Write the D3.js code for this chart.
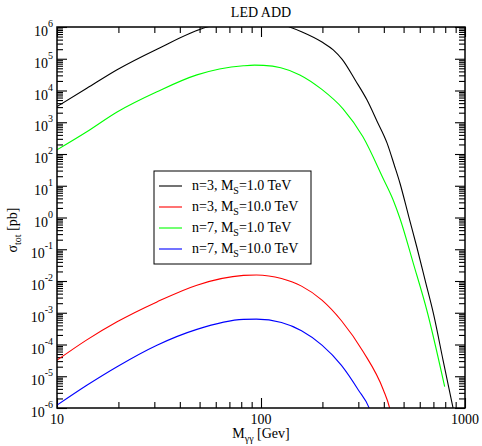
<!DOCTYPE html>
<html>
<head>
<meta charset="utf-8">
<script src="https://cdn.jsdelivr.net/npm/d3@7"></script>
<style>
    body { margin: 0; background: #fff; }
    text { font-family: "Liberation Serif", "Times New Roman", serif; }
</style>
</head>
<body>
<script>
// LED ADD cross sections
var title = "LED ADD";

// diphoton mass (GeV) and sigma_tot (pb) for each curve
var massN3M1 = [10, 14, 19.7, 30.9, 54.4, 88, 126, 138, 158, 200, 226, 250,
                290, 331, 370, 415, 450, 480, 530, 580, 640, 700, 780, 871, 900];
var sigmaN3M1 = [3.1e3, 1.17e4, 4.5e4, 2.0e5, 1.0e6, 1.55e6, 1.2e6, 1.0e6,
                 7.1e5, 3.3e5, 1.9e5, 9.5e4, 2.1e4, 5.0e3, 1.1e3, 220, 45, 12,
                 1.07, 0.12, 9.5e-3, 9.5e-4, 3.3e-5, 1.1e-6, 4e-7];

var massN3M10 = [10, 14, 19.7, 30.9, 48.5, 82, 95, 126, 158, 199, 248, 317,
                 398, 427, 440];
var sigmaN3M10 = [3.2e-5, 1.4e-4, 5.2e-4, 2.2e-3, 7.4e-3, 1.5e-2, 1.55e-2,
                  1.2e-2, 6.9e-3, 2.5e-3, 5.6e-4, 5.9e-5, 3.7e-6, 1.0e-6, 4e-7];

var massN7M1 = [10, 14, 19.7, 30.9, 48.5, 82, 93, 103, 125, 155, 198, 253,
                316, 397, 445, 480, 558, 650, 795];
var sigmaN7M1 = [135, 500, 2.1e3, 9.1e3, 3.1e4, 6.0e4, 6.3e4, 6.2e4, 5.2e4,
                 3.1e4, 1.1e4, 2.6e3, 350, 17, 3.5, 0.93, 0.036, 1.2e-3, 4.7e-6];

var massN7M10 = [10, 14, 19.7, 30.9, 48.5, 82, 95, 126, 158, 199, 248, 300,
                 339, 350];
var sigmaN7M10 = [1.23e-6, 5.2e-6, 2.0e-5, 9.5e-5, 3.0e-4, 6.2e-4, 6.3e-4,
                  4.9e-4, 2.7e-4, 9.5e-5, 2.2e-5, 3.7e-6, 1.0e-6, 5.6e-7];

var seriesN = ["3", "3", "7", "7"];
var seriesMs = ["1.0", "10.0", "1.0", "10.0"];
var seriesColors = ["#000000", "#ff0000", "#00ff00", "#0000ff"];

var xMajor = [10, 100, 1000];
var yExponents = [-6, -5, -4, -3, -2, -1, 0, 1, 2, 3, 4, 5, 6];

var W = 482, H = 446;
// plot frame in pixels ("top" is taken by window.top, so prefix them)
var pLeft = 57, pRight = 465, pTop = 27, pBottom = 408;

var svg = d3.select("body").append("svg")
    .attr("width", W)
    .attr("height", H);

var x = d3.scaleLog().domain([10, 1000]).range([pLeft, pRight]);
var y = d3.scaleLog().domain([1e-6, 1e6]).range([pBottom, pTop]);

// minor ticks 2..9 in every decade
var xMinor = [];
xMajor.slice(0, -1).forEach(function(d) {
    for (var k = 2; k < 10; k++) xMinor.push(d * k);
});
var yMinor = [];
yExponents.slice(0, -1).forEach(function(e) {
    for (var k = 2; k < 10; k++) yMinor.push(k * Math.pow(10, e));
});
var yMajor = yExponents.map(function(e) { return Math.pow(10, e); });

function drawAxis(axisFn, scale, values, size, tx, ty) {
    var g = svg.append("g")
        .attr("transform", "translate(" + tx + "," + ty + ")")
        .call(axisFn(scale).tickValues(values).tickSize(size)
              .tickFormat(""));
    g.select(".domain").remove();
    g.selectAll("line").attr("stroke", "#000").attr("stroke-width", 1.1);
}

var majLen = 10, minLen = 6;
// ticks point inward on all four sides
drawAxis(d3.axisBottom, x, xMajor, -majLen, 0, pBottom);
drawAxis(d3.axisBottom, x, xMinor, -minLen, 0, pBottom);
drawAxis(d3.axisTop, x, xMajor, -majLen, 0, pTop);
drawAxis(d3.axisTop, x, xMinor, -minLen, 0, pTop);
drawAxis(d3.axisLeft, y, yMajor, -majLen, pLeft, 0);
drawAxis(d3.axisLeft, y, yMinor, -minLen, pLeft, 0);
drawAxis(d3.axisRight, y, yMajor, -majLen, pRight, 0);
drawAxis(d3.axisRight, y, yMinor, -minLen, pRight, 0);

// curves, clipped to the frame
svg.append("clipPath").attr("id", "plotclip")
    .append("rect")
    .attr("x", pLeft).attr("y", pTop)
    .attr("width", pRight - pLeft).attr("height", pBottom - pTop);

var series = [
    {mass: massN3M1, sigma: sigmaN3M1},
    {mass: massN3M10, sigma: sigmaN3M10},
    {mass: massN7M1, sigma: sigmaN7M1},
    {mass: massN7M10, sigma: sigmaN7M10}
];

// smooth through the read points (the original is densely sampled)
var line = d3.line()
    .curve(d3.curveMonotoneX)
    .x(function(d) { return x(d[0]); })
    .y(function(d) { return y(d[1]); });

svg.append("g").attr("clip-path", "url(#plotclip)")
    .selectAll("path")
    .data(series)
    .enter()
    .append("path")
    .attr("d", function(s) { return line(d3.zip(s.mass, s.sigma)); })
    .attr("fill", "none")
    .attr("stroke", function(s, i) { return seriesColors[i]; })
    .attr("stroke-width", 1.1);

// frame
svg.append("rect")
    .attr("x", pLeft).attr("y", pTop)
    .attr("width", pRight - pLeft).attr("height", pBottom - pTop)
    .attr("fill", "none")
    .attr("stroke", "#000")
    .attr("stroke-width", 1.5);

// y tick labels 10^n
var yLab = svg.append("g").selectAll("text")
    .data(yExponents)
    .enter()
    .append("text")
    .attr("x", 53)
    .attr("y", function(e) { return y(Math.pow(10, e)) + 9; })
    .attr("text-anchor", "end")
    .attr("font-size", "14px");
yLab.append("tspan").text("10");
yLab.append("tspan")
    .attr("dy", -9)
    .attr("font-size", "10px")
    .text(function(e) { return e; });

// x tick labels
svg.append("g").selectAll("text")
    .data(xMajor)
    .enter()
    .append("text")
    .attr("x", function(d) { return x(d); })
    .attr("y", 424)
    .attr("text-anchor", "middle")
    .attr("font-size", "14px")
    .text(function(d) { return d; });

// title
svg.append("text")
    .attr("x", (pLeft + pRight) / 2)
    .attr("y", 17)
    .attr("text-anchor", "middle")
    .attr("font-size", "14px")
    .text(title);

// x axis title
var xt = svg.append("text")
    .attr("x", (pLeft + pRight) / 2)
    .attr("y", 438)
    .attr("text-anchor", "middle")
    .attr("font-size", "14px");
xt.append("tspan").text("M");
xt.append("tspan").attr("dy", 4).attr("font-size", "10px").text("\u03b3\u03b3");
xt.append("tspan").attr("dy", -4).text(" [Gev]");

// y axis title
var yt = svg.append("text")
    .attr("transform", "translate(17,230) rotate(-90)")
    .attr("text-anchor", "middle")
    .attr("font-size", "14px");
yt.append("tspan").text("\u03c3");
yt.append("tspan").attr("dy", 4).attr("font-size", "10px").text("tot");
yt.append("tspan").attr("dy", -4).text(" [pb]");

// legend
var legX = 154, legY = 171, legW = 157, legH = 93;
svg.append("rect")
    .attr("x", legX).attr("y", legY)
    .attr("width", legW).attr("height", legH)
    .attr("fill", "#fff")
    .attr("stroke", "#000")
    .attr("stroke-width", 1);

var rows = svg.append("g").selectAll("g")
    .data(seriesColors)
    .enter()
    .append("g")
    .attr("transform", function(d, i) {
        return "translate(0," + (186 + i * 21) + ")";
    });
rows.append("line")
    .attr("x1", 159).attr("x2", 182)
    .attr("stroke", function(d) { return d; })
    .attr("stroke-width", 1.1);
var lt = rows.append("text")
    .attr("x", 192)
    .attr("y", 4)
    .attr("font-size", "14px");
lt.append("tspan").text(function(d, i) { return "n=" + seriesN[i] + ", M"; });
lt.append("tspan").attr("dy", 4).attr("font-size", "10px").text("S");
lt.append("tspan").attr("dy", -4)
    .text(function(d, i) { return "=" + seriesMs[i] + " TeV"; });
</script>
</body>
</html>
